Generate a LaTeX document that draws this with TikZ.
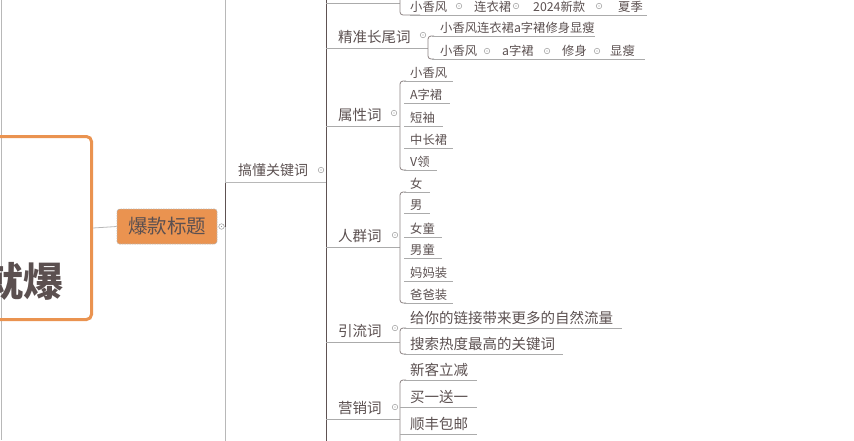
\documentclass[tikz,border=0pt]{standalone}
\usepackage{fontspec}
\newfontfamily\cjk{Noto Sans CJK SC}
\definecolor{tcol}{HTML}{5B5050}
\definecolor{ocol}{HTML}{EA9350}
\definecolor{ucol}{HTML}{ABABAB}
\definecolor{bcol}{HTML}{8C8282}
\definecolor{dcol}{HTML}{5E5252}
\definecolor{gcol}{HTML}{B8B8B8}
\definecolor{kcol}{HTML}{9A9A9A}
\tikzset{
  stxt/.style={inner sep=0pt, text=tcol, anchor=base west, font=\cjk\fontsize{12.3}{14}\selectfont},
  btxt/.style={inner sep=0pt, text=tcol, anchor=base west, font=\cjk\fontsize{14.5}{16}\selectfont},
  ptxt/.style={inner sep=0pt, text=tcol, anchor=base west, font=\cjk\fontsize{14.5}{16}\selectfont},
  ul/.style={draw=ucol, line width=0.7pt},
  brk/.style={draw=bcol, line width=0.8pt, rounded corners=3pt},
  trunk/.style={draw=dcol, line width=0.9pt},
  glin/.style={draw=gcol, line width=0.8pt},
  knob/.style={circle, draw=kcol, line width=0.5pt, minimum size=5.5pt, inner sep=0pt,
    path picture={\fill[kcol] (path picture bounding box.center) circle (0.7pt);}},
  rootbox/.style={draw=ocol, line width=3pt, rounded corners=5pt, minimum width=140pt, minimum height=183pt, anchor=north east, inner sep=0pt},
  titlebox/.style={fill=ocol, draw=gcol, line width=0.6pt, dash pattern=on 1.5pt off 1pt, rounded corners=2.5pt, minimum width=100pt, minimum height=35pt, inner sep=0pt, text=tcol, font=\cjk\fontsize{19.5}{21}\selectfont},
}
\begin{document}
\begin{tikzpicture}[x=1pt,y=-1pt]
\useasboundingbox (0,0) rectangle (854,440);
% far-left line
\coordinate (ltop) at (1,0); \coordinate (lbot) at (1,440);
\draw[glin] (ltop) -- (lbot);
% root
\node[rootbox] (root) at (93,135) {};
\node[inner sep=0pt, text=tcol, anchor=east, font=\cjk\bfseries\fontsize{40}{42}\selectfont] (rootlbl) at (64,281) {就爆};
% title
\node[titlebox] (title) at (167,226.5) {爆款标题};
\draw[glin] (root.east) -- (title.west);
\node[knob] (k0) at (221.5,226.5) {};
% level-1 trunk
\coordinate (t1top) at (225,-5); \coordinate (t1bot) at (225,445);
\coordinate (t1a) at (225,182); \coordinate (t1b) at (225,226.5);
\draw[glin] (t1top) -- (t1bot);
\draw[trunk] (t1a) -- (t1b);
\draw[trunk] (k0.east) -- (t1b);
% 搞懂关键词
\node[ptxt, font=\cjk\fontsize{14}{16}\selectfont] (gd) at (238,175.5) {搞懂关键词};
\node[knob] (kgd) at (321,170) {};
\coordinate (t2a) at (326,182);
\draw[glin] (t1a) -- (t2a);
% level-2 trunk
\coordinate (t2top) at (326,-5); \coordinate (t2bot) at (326,445);
\draw[trunk] (t2top) -- (t2bot);

% ---- top branch (cut off) ----
\coordinate (p0) at (400,3);
\draw[ul] (326,3) -- (p0);
\draw[brk] (400,-10) -- (400,15) -- (420,15);
\draw[ul] (410,15) -- (647,15);
\node[stxt] (a1) at (410,11.7) {小香风};
\node[knob] (ka1) at (459,6) {};
\node[stxt] (a2) at (474,11.7) {连衣裙};
\node[knob] (ka2) at (516,6) {};
\node[stxt] (a3) at (533,11.7) {2024新款};
\node[knob] (ka3) at (599,6) {};
\node[stxt] (a4) at (618,11.7) {夏季};

% ---- 精准长尾词 ----
\node[ptxt] (jz) at (338,42.5) {精准长尾词};
\node[knob] (kjz) at (423,35) {};
\draw[ul] (326,48) -- (428,48);
\draw[brk] (434,36) -- (428,36) -- (428,59) -- (434,59);
\draw[ul] (432,36) -- (595,36);
\draw[ul] (432,59) -- (645,59);
\node[stxt] (jz1) at (440,32.7) {小香风连衣裙a字裙修身显瘦};
\node[stxt] (jz2) at (440,55.7) {小香风};
\node[knob] (kj1) at (487,51) {};
\node[stxt] (jz3) at (502,55.7) {a字裙};
\node[knob] (kj2) at (547,51) {};
\node[stxt] (jz4) at (562,55.7) {修身};
\node[knob] (kj3) at (597,51) {};
\node[stxt] (jz5) at (610,55.7) {显瘦};

% ---- 属性词 ----
\node[ptxt] (sx) at (338,120.5) {属性词};
\node[knob] (ksx) at (394,113) {};
\draw[ul] (326,126) -- (400,126);
\draw[brk] (406,81) -- (400,81) -- (400,170) -- (406,170);
\draw[ul] (404,81) -- (453,81);
\draw[ul] (404,103) -- (450,103);
\draw[ul] (404,126) -- (443,126);
\draw[ul] (404,148) -- (453,148);
\draw[ul] (404,170) -- (437,170);
\node[stxt] (sx1) at (410,77.7) {小香风};
\node[stxt] (sx2) at (410,99.7) {A字裙};
\node[stxt] (sx3) at (410,122.7) {短袖};
\node[stxt] (sx4) at (410,144.7) {中长裙};
\node[stxt] (sx5) at (410,166.7) {V领};

% ---- 人群词 ----
\node[ptxt] (rq) at (338,241.5) {人群词};
\node[knob] (krq) at (395,235) {};
\draw[ul] (326,247) -- (400,247);
\draw[brk] (406,192) -- (400,192) -- (400,303) -- (406,303);
\draw[ul] (404,192) -- (430,192);
\draw[ul] (404,213) -- (430,213);
\draw[ul] (404,237) -- (442,237);
\draw[ul] (404,258) -- (442,258);
\draw[ul] (404,281) -- (453,281);
\draw[ul] (404,303) -- (453,303);
\node[stxt] (rq1) at (410,188.7) {女};
\node[stxt] (rq2) at (410,209.7) {男};
\node[stxt] (rq3) at (410,233.7) {女童};
\node[stxt] (rq4) at (410,254.7) {男童};
\node[stxt] (rq5) at (410,277.7) {妈妈装};
\node[stxt] (rq6) at (410,299.7) {爸爸装};

% ---- 引流词 ----
\node[ptxt] (yl) at (338,336.5) {引流词};
\node[knob] (kyl) at (395,328) {};
\draw[ul] (326,342) -- (400,342);
\draw[brk] (406,328) -- (400,328) -- (400,354) -- (406,354);
\draw[ul] (404,328) -- (622,328);
\draw[ul] (404,354) -- (563,354);
\node[btxt] (yl1) at (410,323.5) {给你的链接带来更多的自然流量};
\node[btxt] (yl2) at (410,349.5) {搜索热度最高的关键词};

% ---- 营销词 ----
\node[ptxt] (yx) at (338,413.5) {营销词};
\node[knob] (kyx) at (395,407) {};
\draw[ul] (326,419) -- (400,419);
\draw[brk] (406,380) -- (400,380) -- (400,450);
\draw[ul] (404,380) -- (477,380);
\draw[ul] (400,407) -- (477,407);
\draw[ul] (400,434) -- (477,434);
\node[btxt] (yx1) at (410,375.5) {新客立减};
\node[btxt] (yx2) at (410,402.5) {买一送一};
\node[btxt] (yx3) at (410,429.5) {顺丰包邮};
\end{tikzpicture}
\end{document}
